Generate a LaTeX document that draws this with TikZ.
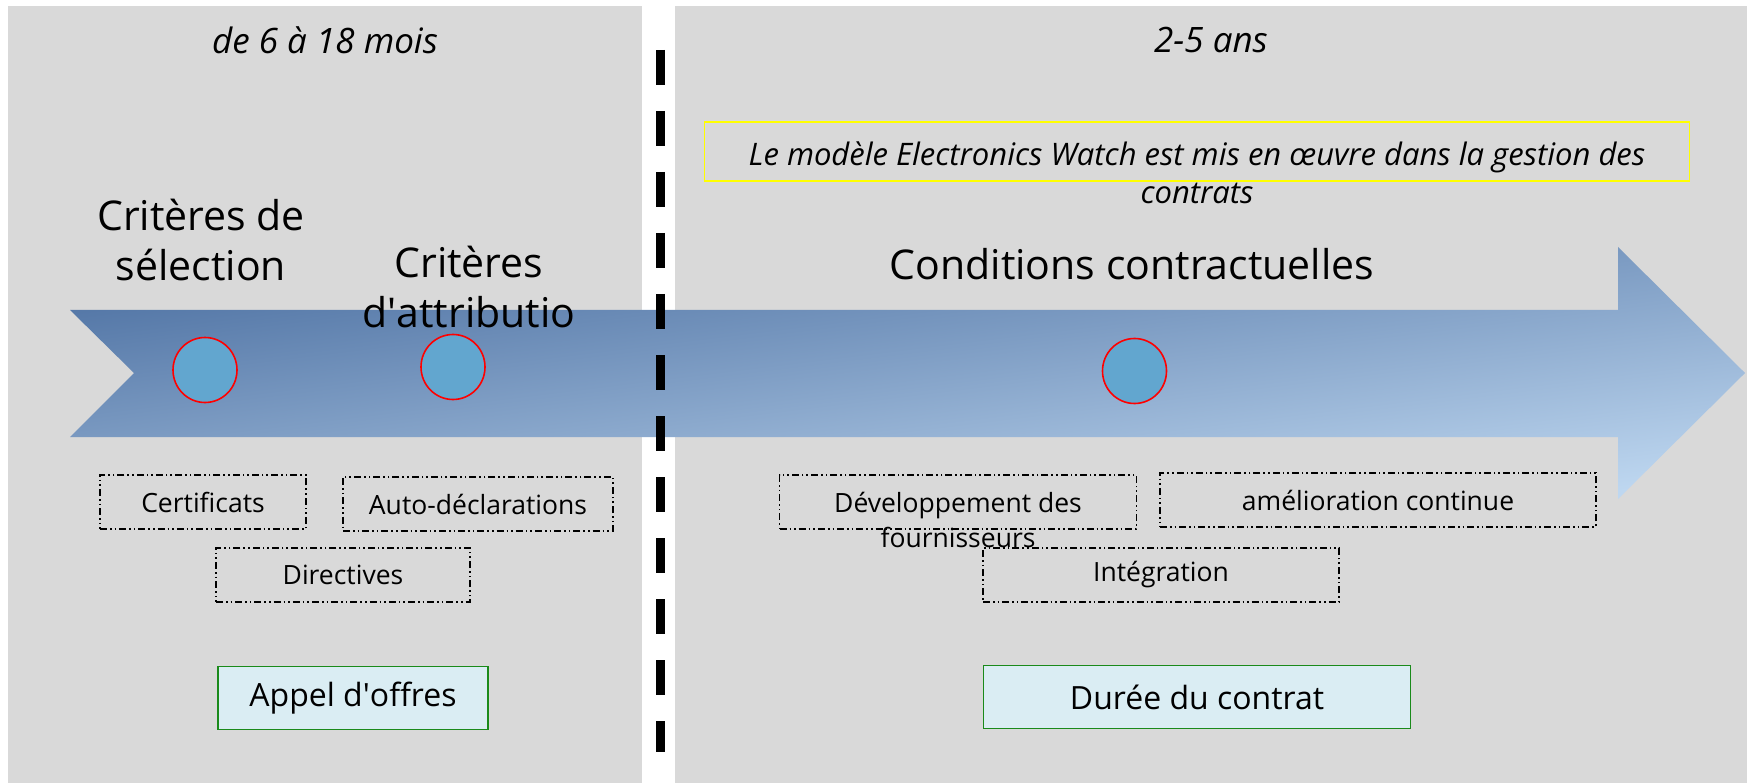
\documentclass[tikz,border=0pt]{standalone}
\usepackage{fontspec}
\setmainfont{Open Sans}
\usetikzlibrary{shapes.geometric}
\definecolor{panelgray}{HTML}{D9D9D9}
\definecolor{dotblue}{HTML}{62A6CF}
\definecolor{arrowdark}{RGB}{74,110,160}
\definecolor{arrowlight}{RGB}{190,215,240}
\definecolor{phasefill}{HTML}{DAEDF3}
\definecolor{phasegreen}{HTML}{1A8A1A}
\definecolor{notebox}{HTML}{FFFF00}
\begin{document}
\begin{tikzpicture}[x=1pt,y=-1pt,
  dot/.style={ellipse, minimum width=64pt, minimum height=65pt, inner sep=0pt, fill=dotblue, draw=red, line width=1.6pt},
  tagbox/.style={draw=black, line width=1.8pt, dash pattern=on 7pt off 3pt on 1.6pt off 3pt on 1.6pt off 3pt, inner sep=0pt, font=\fontsize{26.5}{30}\selectfont},
  phase/.style={draw=phasegreen, fill=phasefill, line width=1.6pt, inner sep=0pt, font=\fontsize{32}{36}\selectfont},
  period/.style={font=\fontsize{35}{40}\selectfont\itshape},
  biglabel/.style={font=\fontsize{41}{50}\selectfont, align=center},
  note/.style={font=\fontsize{31}{38}\selectfont\itshape, align=center}
]
\useasboundingbox (0,0) rectangle (1747,783);
\fill[white] (0,0) rectangle (1747,783);
\fill[panelgray] (8,6) rectangle (642,783);
\fill[panelgray] (675,6) rectangle (1747,783);

% big arrow
\shade[top color=arrowdark, bottom color=arrowlight, shading angle=7]
  (70,310) -- (1618,310) -- (1618,247) -- (1745,373) -- (1618,499) -- (1618,437) -- (70,437) -- (134,373) -- cycle;

% divider
\coordinate (divtop) at (660,50);
\coordinate (divbot) at (660,752);
\draw[line width=9pt, dash pattern=on 35pt off 26pt] (divtop) -- (divbot);

% periods
\node[period] (p1) at (325,40) {de 6 à 18 mois};
\node[period] (p2) at (1211,40) {2-5 ans};

% note box
\node[draw=notebox, line width=1.6pt, minimum width=985pt, minimum height=59pt, inner sep=0pt] (notebox) at (1197,151.5) {};
\node[note] (notetext) at (1197,173) {Le modèle Electronics Watch est mis en œuvre dans la gestion des\\contrats};

% labels
\node[biglabel] (sel) at (201,240) {Critères de\\sélection};
\node[biglabel] (attr) at (469,287) {Critères\\d\textquotesingle attributio};
\node[biglabel] (cond) at (1132,264) {Conditions contractuelles};

% dots
\node[dot] (d1) at (205,370) {};
\node[dot] (d2) at (453,367) {};
\node[dot] (d3) at (1134.5,371) {};

% tag boxes left
\node[tagbox, minimum width=206pt, minimum height=54pt] (cert) at (203,502) {Certificats};
\node[tagbox, minimum width=270pt, minimum height=54pt] (auto) at (478,504) {Auto-déclarations};
\node[tagbox, minimum width=254pt, minimum height=54pt] (dir) at (343,575) {Directives};

% tag boxes right
\node[tagbox, minimum width=357pt, minimum height=54pt] (dev) at (958,502) {};
\node[font=\fontsize{26.5}{35}\selectfont, align=center] (devtext) at (958,520) {Développement des\\fournisseurs};
\node[tagbox, minimum width=436pt, minimum height=54pt] (amel) at (1378,500) {amélioration continue};
\node[tagbox, minimum width=356pt, minimum height=54pt] (integ) at (1161,575) {Intégration};

% phases
\node[phase, minimum width=270pt, minimum height=63pt] (appel) at (353,698) {Appel d\textquotesingle offres};
\node[phase, minimum width=427pt, minimum height=63pt] (duree) at (1197,697) {Durée du contrat};
\end{tikzpicture}
\end{document}
